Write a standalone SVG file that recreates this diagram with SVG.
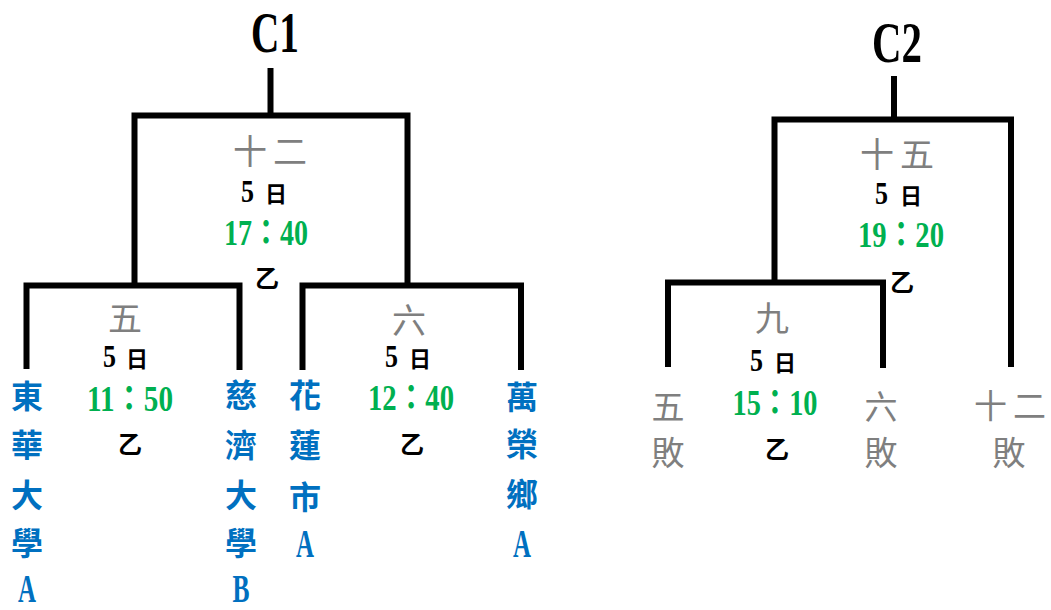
<svg xmlns="http://www.w3.org/2000/svg" width="1051" height="610" viewBox="0 0 1051 610">
<style>
.ln{fill:none;stroke:#000;stroke-width:6;stroke-linejoin:miter;stroke-linecap:butt}
.ttl{font-family:'Liberation Serif',serif;font-size:58px;font-weight:bold;fill:#000}
.cj{font-family:'Noto Sans CJK TC',sans-serif;dominant-baseline:central;text-anchor:middle}
.rnd{font-size:34px;fill:#7f7f7f;letter-spacing:6px}
.lose{font-family:'Noto Sans CJK TC',sans-serif;font-size:33px;fill:#7f7f7f;text-anchor:middle;dominant-baseline:central}
.day{fill:#000}
.d5{font-family:'Liberation Serif',serif;font-size:32px;font-weight:bold}
.dr{font-family:'Noto Sans CJK TC',sans-serif;font-size:22px;font-weight:bold}
.tm{font-family:'Liberation Serif','Noto Sans CJK TC',serif;font-size:35px;font-weight:bold;fill:#00b050;text-anchor:middle}
.ct{font-family:'Noto Sans CJK TC',sans-serif;font-size:24px;font-weight:bold;fill:#000;text-anchor:middle;dominant-baseline:central}
.tm2{font-family:'Noto Sans CJK TC',sans-serif;font-size:32px;font-weight:bold;fill:#0070c0;text-anchor:middle}
.lat{font-family:'Liberation Serif',serif;font-size:39px;font-weight:bold}
</style>
<g id="connectors">
<path class="ln" d="M270.5 68 V116"/>
<path class="ln" d="M134.5 286 V115.5 H407.5 V286"/>
<path class="ln" d="M26.5 369 V285.5 H239.5 V370"/>
<path class="ln" d="M302.5 370 V285.5 H521 V370"/>
<path class="ln" d="M894 76 V119"/>
<path class="ln" d="M774.5 283 V119.5 H1011 V367"/>
<path class="ln" d="M668 367 V282.5 H883 V368"/>
</g>
<g id="title-c1"><text class="ttl" x="251" y="52" textLength="48" lengthAdjust="spacingAndGlyphs">C1</text></g>
<g id="title-c2"><text class="ttl" x="872" y="62" textLength="50" lengthAdjust="spacingAndGlyphs">C2</text></g>

<g id="match-12">
<text class="cj rnd" x="273" y="149.5">十二</text>
<text class="day" y="202"><tspan class="d5" x="241" textLength="13" lengthAdjust="spacingAndGlyphs">5</tspan><tspan class="dr" x="265">日</tspan></text>
<text class="tm" x="266" y="245" textLength="84" lengthAdjust="spacingAndGlyphs">17：40</text>
<text class="ct" x="267" y="276">乙</text>
</g>

<g id="match-5">
<text class="cj rnd" x="128" y="316" font-size="32" letter-spacing="0">五</text>
<text class="day" y="367"><tspan class="d5" x="103" textLength="13" lengthAdjust="spacingAndGlyphs">5</tspan><tspan class="dr" x="126">日</tspan></text>
<text class="tm" x="130" y="411" textLength="86" lengthAdjust="spacingAndGlyphs">11：50</text>
<text class="ct" x="130" y="442">乙</text>
</g>

<g id="match-6">
<text class="cj rnd" x="412" y="318" font-size="32" letter-spacing="0">六</text>
<text class="day" y="367"><tspan class="d5" x="385" textLength="13" lengthAdjust="spacingAndGlyphs">5</tspan><tspan class="dr" x="409">日</tspan></text>
<text class="tm" x="411" y="410" textLength="86" lengthAdjust="spacingAndGlyphs">12：40</text>
<text class="ct" x="412" y="442.5">乙</text>
</g>

<g id="team-donghua-a">
<text class="tm2"><tspan x="27" y="408">東</tspan><tspan x="27" y="457">華</tspan><tspan x="27" y="507">大</tspan><tspan x="27" y="555">學</tspan><tspan class="lat" x="27" y="602" textLength="18" lengthAdjust="spacingAndGlyphs">A</tspan></text>
</g>
<g id="team-tzuchi-b">
<text class="tm2"><tspan x="241" y="407">慈</tspan><tspan x="241" y="457">濟</tspan><tspan x="241" y="507">大</tspan><tspan x="241" y="555">學</tspan><tspan class="lat" x="241" y="602" textLength="17" lengthAdjust="spacingAndGlyphs">B</tspan></text>
</g>
<g id="team-hualien-a">
<text class="tm2"><tspan x="305" y="407">花</tspan><tspan x="305" y="457">蓮</tspan><tspan x="305" y="509">市</tspan><tspan class="lat" x="305" y="557" textLength="18" lengthAdjust="spacingAndGlyphs">A</tspan></text>
</g>
<g id="team-wanrong-a">
<text class="tm2"><tspan x="522" y="409">萬</tspan><tspan x="522" y="456">榮</tspan><tspan x="522" y="506">鄉</tspan><tspan class="lat" x="522" y="557" textLength="18" lengthAdjust="spacingAndGlyphs">A</tspan></text>
</g>

<g id="match-15">
<text class="cj rnd" x="900" y="152">十五</text>
<text class="day" y="204"><tspan class="d5" x="875" textLength="13" lengthAdjust="spacingAndGlyphs">5</tspan><tspan class="dr" x="900">日</tspan></text>
<text class="tm" x="901" y="247" textLength="86" lengthAdjust="spacingAndGlyphs">19：20</text>
<text class="ct" x="902" y="280">乙</text>
</g>

<g id="match-9">
<text class="cj rnd" x="775" y="316" font-size="32" letter-spacing="0">九</text>
<text class="day" y="371"><tspan class="d5" x="750" textLength="13" lengthAdjust="spacingAndGlyphs">5</tspan><tspan class="dr" x="774">日</tspan></text>
<text class="tm" x="775" y="415" textLength="85" lengthAdjust="spacingAndGlyphs">15：10</text>
<text class="ct" x="777" y="447">乙</text>
</g>

<g id="loser-5"><text class="lose"><tspan x="668" y="405">五</tspan><tspan x="668" y="451">敗</tspan></text></g>
<g id="loser-6"><text class="lose"><tspan x="881" y="405">六</tspan><tspan x="881" y="451">敗</tspan></text></g>
<g id="loser-12"><text class="lose"><tspan x="1013" y="404" letter-spacing="6">十二</tspan><tspan x="1009" y="451">敗</tspan></text></g>
</svg>
